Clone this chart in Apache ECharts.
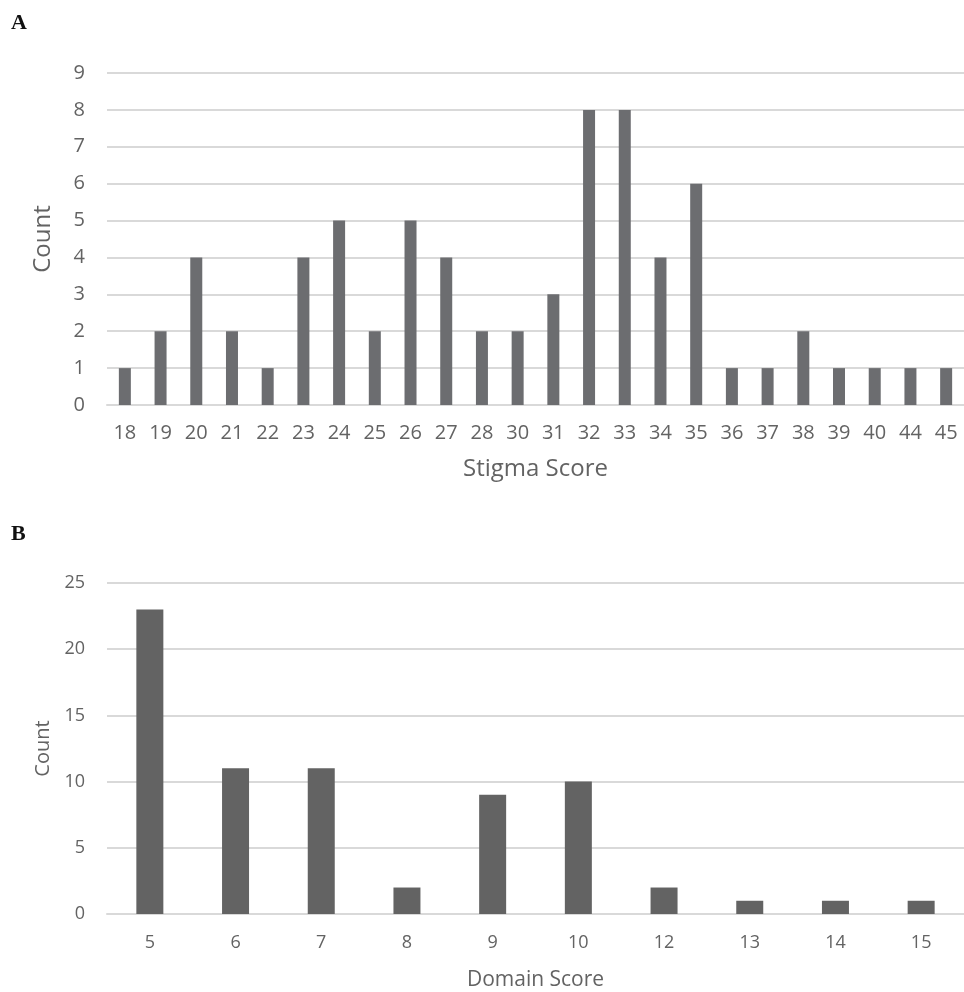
<!DOCTYPE html>
<html><head><meta charset="utf-8">
<script src="https://cdn.jsdelivr.net/npm/echarts@6/dist/echarts.min.js"></script>
<style>html,body{margin:0;padding:0;background:#fff}#c{width:964px;height:992px}</style>
</head><body><div id="c"></div>
<script>
const stigmaScores = ['18','19','20','21','22','23','24','25','26','27','28','30','31','32','33','34','35','36','37','38','39','40','44','45'];
const stigmaCounts = [1,2,4,2,1,4,5,2,5,4,2,2,3,8,8,4,6,1,1,2,1,1,1,1];
const domainScores = ['5','6','7','8','9','10','12','13','14','15'];
const domainCounts = [23,11,11,2,9,10,2,1,1,1];
const ticksA = [0,1,2,3,4,5,6,7,8,9];
const ticksB = [0,5,10,15,20,25];

const font = '"Open Sans", sans-serif';
const labelColor = '#636363';
const chart = echarts.init(document.getElementById('c'), null, {renderer:'canvas'});
chart.setOption({
  animation:false,
  backgroundColor:'#fff',
  graphic:[
    {type:'text', left:11, top:12, style:{text:'A', font:'bold 22px "Liberation Serif", serif', fill:'#111'}},
    {type:'text', left:11, top:523, style:{text:'B', font:'bold 22px "Liberation Serif", serif', fill:'#111'}}
  ],
  grid:[
    {left:107, top:73, width:862, height:332, containLabel:false},
    {left:107, top:583, width:863, height:332.5, containLabel:false}
  ],
  xAxis:[
    {gridIndex:0, type:'category', data:stigmaScores,
     axisLine:{lineStyle:{color:'#d9d9d9', width:2}}, axisTick:{show:false},
     axisLabel:{color:labelColor, fontSize:20, fontFamily:font, margin:18, interval:0},
     name:'Stigma Score', nameLocation:'middle', nameGap:52,
     nameTextStyle:{color:labelColor, fontSize:24, fontFamily:font}},
    {gridIndex:1, type:'category', data:domainScores,
     axisLine:{lineStyle:{color:'#d9d9d9', width:2}}, axisTick:{show:false},
     axisLabel:{color:labelColor, fontSize:18, fontFamily:font, margin:20, interval:0},
     name:'Domain Score', nameLocation:'middle', nameGap:56,
     nameTextStyle:{color:labelColor, fontSize:21, fontFamily:font}}
  ],
  yAxis:[
    {gridIndex:0, type:'value', min:ticksA[0], max:ticksA[ticksA.length-1], interval:1,
     axisLine:{show:false}, axisTick:{show:false},
     splitLine:{lineStyle:{color:'#d9d9d9', width:2}},
     axisLabel:{color:labelColor, fontSize:20, fontFamily:font, margin:22},
     name:'Count', nameLocation:'middle', nameGap:52,
     nameTextStyle:{color:labelColor, fontSize:24, fontFamily:font}},
    {gridIndex:1, type:'value', min:ticksB[0], max:ticksB[ticksB.length-1], interval:5,
     axisLine:{show:false}, axisTick:{show:false},
     splitLine:{lineStyle:{color:'#d9d9d9', width:2}},
     axisLabel:{color:labelColor, fontSize:18, fontFamily:font, margin:22},
     name:'Count', nameLocation:'middle', nameGap:50,
     nameTextStyle:{color:labelColor, fontSize:20, fontFamily:font}}
  ],
  series:[
    {type:'bar', xAxisIndex:0, yAxisIndex:0, data:stigmaCounts, barWidth:12,
     itemStyle:{color:'#6c6d70'}},
    {type:'bar', xAxisIndex:1, yAxisIndex:1, data:domainCounts, barWidth:27,
     itemStyle:{color:'#636363'}}
  ]
});
</script></body></html>
